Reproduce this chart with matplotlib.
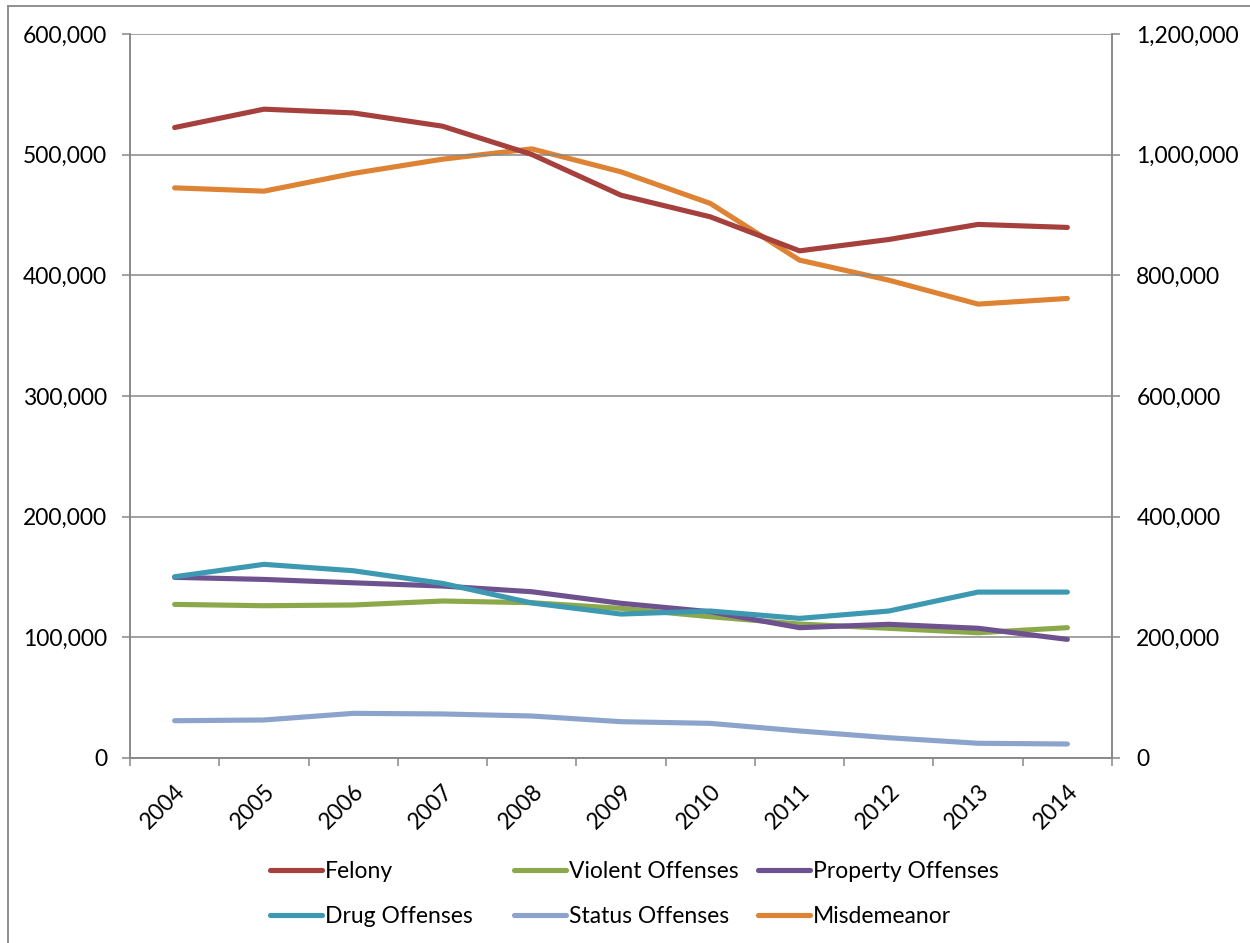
import matplotlib
matplotlib.use("Agg")
import matplotlib.pyplot as plt
from matplotlib.ticker import FuncFormatter, FixedLocator
from matplotlib.lines import Line2D

plt.rcParams['font.family'] = ['Lato', 'DejaVu Sans']

years = ["2004", "2005", "2006", "2007", "2008", "2009",
         "2010", "2011", "2012", "2013", "2014"]

felony = [522500, 537700, 534600, 523600, 500200, 466400,
          448500, 420300, 429700, 442200, 439700]
violent = [127300, 126200, 126800, 130100, 128700, 124000,
           117100, 111000, 107500, 103800, 108000]
property_ = [149700, 148000, 145200, 142500, 137800, 128200,
             121200, 108000, 110800, 107500, 98300]
drug = [150200, 160500, 155200, 144700, 128500, 119300,
        121800, 115700, 121800, 137500, 137500]
status = [30900, 31500, 37000, 36500, 34800, 30100,
          28700, 22400, 16800, 12200, 11600]
misdemeanor = [945000, 939500, 968900, 992500, 1009600, 971500,
               919200, 825200, 792000, 752300, 761700]

colors = {
    "Felony": "#A5403D",
    "Violent Offenses": "#8BA84A",
    "Property Offenses": "#6E5290",
    "Drug Offenses": "#3D98B2",
    "Status Offenses": "#8CA3CC",
    "Misdemeanor": "#DE8234",
}

GRAY = "#878787"
TXT = "#000000"
FS = 16.5
LW = 3.7

fig = plt.figure(figsize=(12.5, 9.43), dpi=100)
ax = fig.add_axes([130 / 1250, 1 - 758 / 943, 982 / 1250, 724 / 943])
ax2 = ax.twinx()

x = list(range(len(years)))
h_fel, = ax.plot(x, felony, color=colors["Felony"], lw=LW, solid_capstyle="round", label="Felony")
h_vio, = ax.plot(x, violent, color=colors["Violent Offenses"], lw=LW, solid_capstyle="round", label="Violent Offenses")
h_pro, = ax.plot(x, property_, color=colors["Property Offenses"], lw=LW, solid_capstyle="round", label="Property Offenses")
h_drg, = ax.plot(x, drug, color=colors["Drug Offenses"], lw=LW, solid_capstyle="round", label="Drug Offenses")
h_sta, = ax.plot(x, status, color=colors["Status Offenses"], lw=LW, solid_capstyle="round", label="Status Offenses")
h_mis, = ax2.plot(x, misdemeanor, color=colors["Misdemeanor"], lw=LW, solid_capstyle="round", label="Misdemeanor")

# left-axis series drawn above the secondary axis
ax.set_zorder(ax2.get_zorder() + 1)
ax.patch.set_visible(False)

ax.set_xlim(-0.5, len(years) - 0.5)
ax.set_ylim(0, 600000)
ax2.set_ylim(0, 1200000)

fmt = FuncFormatter(lambda v, p: f"{v:,.0f}")
ax.yaxis.set_major_locator(FixedLocator([i * 100000 for i in range(7)]))
ax2.yaxis.set_major_locator(FixedLocator([i * 200000 for i in range(7)]))
ax.yaxis.set_major_formatter(fmt)
ax2.yaxis.set_major_formatter(fmt)

ax.grid(axis="y", color=GRAY, lw=1.1)
ax.set_axisbelow(True)

ax.set_xticks(x)
ax.set_xticklabels(years, rotation=45, ha="right", va="top", rotation_mode="anchor")
ax.set_xticks([i - 0.5 for i in range(len(years) + 1)], minor=True)
ax.tick_params(axis="x", which="major", length=0, pad=16, labelsize=FS, colors=TXT)
ax.tick_params(axis="x", which="minor", length=5.5, width=1.1, color=GRAY, direction="out")
ax.tick_params(axis="y", length=5.5, width=1.1, color=GRAY, pad=11, labelsize=FS, labelcolor=TXT)
ax2.tick_params(axis="y", length=5.5, width=1.1, color=GRAY, pad=12, labelsize=FS, labelcolor=TXT)

for a in (ax, ax2):
    a.spines["top"].set_visible(False)
    for side in ("left", "right", "bottom"):
        a.spines[side].set_color(GRAY)
        a.spines[side].set_linewidth(1.1)

# legend: three columns of two entries each
cols = [(270, [h_fel, h_drg]),
        (514, [h_vio, h_sta]),
        (758, [h_pro, h_mis])]
for px, handles in cols:
    fig.legend(handles=handles, labels=[h.get_label() for h in handles],
               loc="upper left",
               bbox_to_anchor=(px / 1250, 1 - 861 / 943),
               frameon=False, fontsize=FS, handlelength=2.27,
               handletextpad=0.13, labelspacing=1.05,
               borderaxespad=0, borderpad=0)

# outer chart border
fig.add_artist(Line2D([8 / 1250, 1.0], [1 - 6 / 943, 1 - 6 / 943], transform=fig.transFigure, color=GRAY, lw=1.3))
fig.add_artist(Line2D([8 / 1250, 8 / 1250], [0.0, 1 - 6 / 943], transform=fig.transFigure, color=GRAY, lw=1.3))

fig.savefig("out.png", dpi=100, facecolor="white")
